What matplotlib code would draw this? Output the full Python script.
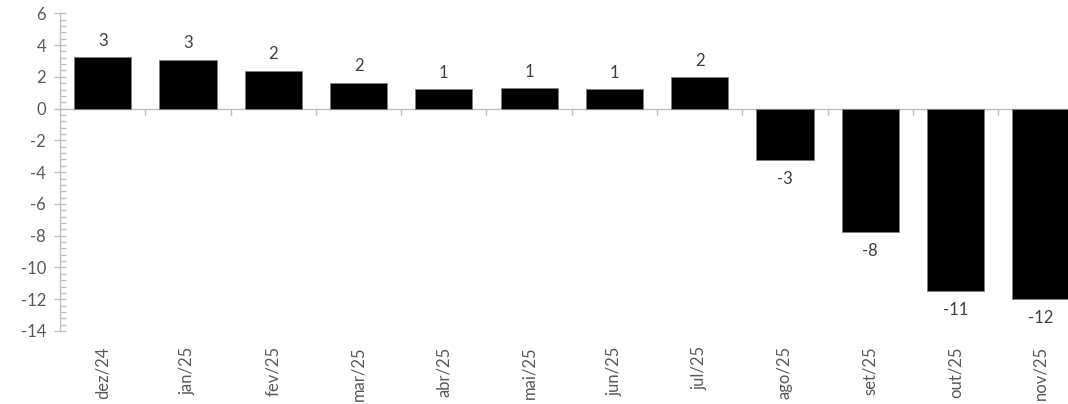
import matplotlib
matplotlib.use("Agg")
import matplotlib.pyplot as plt
import numpy as np
from matplotlib.ticker import MultipleLocator

categories = ["dez/24", "jan/25", "fev/25", "mar/25", "abr/25", "mai/25",
              "jun/25", "jul/25", "ago/25", "set/25", "out/25", "nov/25"]
values = [3.22, 3.09, 2.38, 1.64, 1.24, 1.28, 1.24, 2.00, -3.22, -7.77, -11.49, -11.96]
bar_labels = ["3", "3", "2", "2", "1", "1", "1", "2", "-3", "-8", "-11", "-12"]
y_ticks = [6, 4, 2, 0, -2, -4, -6, -8, -10, -12, -14]

plt.rcParams['font.family'] = ['Lato', 'DejaVu Sans']
FS = 12

W, H = 1068, 404
fig = plt.figure(figsize=(W / 100, H / 100), dpi=100)
left_px, right_px = 60, 1083.5
top_px, bot_px = 13.3, 331
ax = fig.add_axes([left_px / W, 1 - bot_px / H, (right_px - left_px) / W, (bot_px - top_px) / H])

x = np.arange(len(categories))
ax.bar(x, values, width=0.67, color="black", edgecolor="#7f7f7f", linewidth=0.6, zorder=3)

ax.set_xlim(-0.5, len(categories) - 0.5)
ax.set_ylim(-14, 6)
ax.set_yticks(y_ticks)
ax.set_yticklabels([str(v) for v in y_ticks], color="#595959", fontsize=FS)
ax.yaxis.set_minor_locator(MultipleLocator(0.4))

axis_col = "#bfbfbf"
for s in ["top", "right", "bottom"]:
    ax.spines[s].set_visible(False)
ax.spines["left"].set_color(axis_col)
ax.spines["left"].set_linewidth(1.0)
ax.tick_params(axis="y", which="major", direction="inout", length=8, color=axis_col, width=1.0, pad=6)
ax.tick_params(axis="y", which="minor", direction="in", length=4, color=axis_col, width=1.0)

# horizontal category axis at zero
ax.axhline(0, color=axis_col, linewidth=1.0, zorder=2)
for b in np.arange(0.5, len(categories) - 0.5, 1.0):
    ax.plot([b, b], [0, -0.4], color=axis_col, linewidth=1.0, zorder=2, clip_on=False)

ax.set_xticks(x)
ax.set_xticklabels(categories, rotation=90, color="#595959", fontsize=FS, va="top")
ax.tick_params(axis="x", length=0, pad=11)

for xi, v, lab in zip(x, values, bar_labels):
    if v >= 0:
        ax.annotate(lab, (xi, v), xytext=(0, 6), textcoords="offset points",
                    ha="center", va="bottom", fontsize=FS, color="#404040")
    else:
        ax.annotate(lab, (xi, v), xytext=(0, -8), textcoords="offset points",
                    ha="center", va="top", fontsize=FS, color="#404040")

fig.savefig("out.png", dpi=100)
